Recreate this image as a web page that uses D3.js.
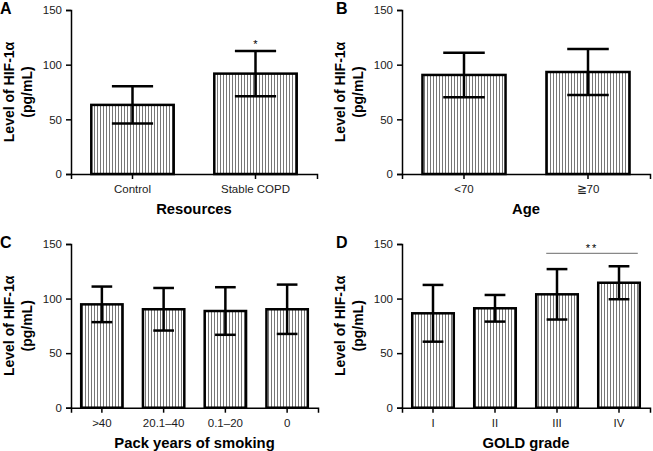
<!DOCTYPE html>
<html>
<head>
<meta charset="utf-8">
<script src="https://cdn.jsdelivr.net/npm/d3@7"></script>
<style>
  body { margin: 0; background: #fff; }
  svg { display: block; font-family: Arial, "Liberation Sans", sans-serif; }
  .axis path, .axis line { stroke: #000; stroke-width: 1.5; }
  .axis text { font-size: 11.5px; fill: #1a1a1a; }
</style>
</head>
<body>
<svg width="653" height="451"></svg>
<script>
// panel A - resources
let resourcesCats = ["Control", "Stable COPD"];
let resourcesMeans = [63.2, 91.8];
let resourcesSD = [17, 20.7];

// panel B - age
let ageCats = ["<70", "≧70"];
let ageMeans = [90.6, 93.3];
let ageSD = [20.4, 21];

// panel C - pack years
let smokingCats = [">40", "20.1–40", "0.1–20", "0"];
let smokingMeans = [94.7, 90.2, 88.6, 90.2];
let smokingSD = [16.3, 19.5, 21.8, 22.6];

// panel D - GOLD grade
let goldCats = ["I", "II", "III", "IV"];
let goldMeans = [86.5, 91.1, 103.9, 114.5];
let goldSD = [26, 12.2, 23.1, 15.1];

let yTicks = [0, 50, 100, 150];

let svg = d3.select("svg");

// hatch pattern for bars
svg.append("defs")
    .append("pattern")
    .attr("id", "hatch")
    .attr("patternUnits", "userSpaceOnUse")
    .attr("width", 3)
    .attr("height", 10)
    .append("line")
    .attr("x1", 1.5).attr("y1", 0)
    .attr("x2", 1.5).attr("y2", 10)
    .attr("stroke", "#777")
    .attr("stroke-width", 1);

function drawPanel(letter, x0, x1, y0, y1, cats, means, sds, title, mark){
    let g = svg.append("g");

    let scaleX = d3.scaleBand()
        .domain(cats)
        .range([x0, x1])
        .paddingInner(0.33)
        .paddingOuter(0.165);
    let scaleY = d3.scaleLinear()
        .domain([0, 150])
        .range([y1, y0]);

    let data = cats.map((c, i) => ({cat: c, mean: means[i], sd: sds[i]}));

    // bars
    g.selectAll(".bar")
        .data(data)
        .enter()
        .append("rect")
        .attr("x", d => scaleX(d.cat))
        .attr("width", scaleX.bandwidth())
        .attr("y", d => scaleY(d.mean))
        .attr("height", d => scaleY(0) - scaleY(d.mean))
        .attr("fill", "url(#hatch)")
        .attr("stroke", "#000")
        .attr("stroke-width", 2.5);

    // error bars
    let bw = scaleX.bandwidth();
    let eb = g.selectAll(".err")
        .data(data)
        .enter()
        .append("g")
        .attr("stroke", "#000")
        .attr("stroke-width", 2.5);
    eb.append("line")
        .attr("x1", d => scaleX(d.cat) + bw / 2)
        .attr("x2", d => scaleX(d.cat) + bw / 2)
        .attr("y1", d => scaleY(d.mean - d.sd))
        .attr("y2", d => scaleY(d.mean + d.sd));
    eb.append("line")
        .attr("x1", d => scaleX(d.cat) + bw / 4)
        .attr("x2", d => scaleX(d.cat) + bw * 3 / 4)
        .attr("y1", d => scaleY(d.mean + d.sd))
        .attr("y2", d => scaleY(d.mean + d.sd));
    eb.append("line")
        .attr("x1", d => scaleX(d.cat) + bw / 4)
        .attr("x2", d => scaleX(d.cat) + bw * 3 / 4)
        .attr("y1", d => scaleY(d.mean - d.sd))
        .attr("y2", d => scaleY(d.mean - d.sd));

    // axes
    g.append("g")
        .attr("class", "axis")
        .attr("transform", `translate(0, ${y1})`)
        .call(d3.axisBottom(scaleX).tickSizeOuter(0).tickSize(5).tickPadding(6));
    g.append("g")
        .attr("class", "axis")
        .attr("transform", `translate(${x0}, 0)`)
        .call(d3.axisLeft(scaleY).tickValues(yTicks).tickSizeOuter(0).tickSize(5).tickPadding(4));

    // y title
    let cy = (y0 + y1) / 2;
    g.append("text")
        .attr("transform", `translate(${x0 - 57}, ${cy}) rotate(-90)`)
        .attr("text-anchor", "middle")
        .attr("font-size", "14px")
        .attr("font-weight", "bold")
        .text("Level of HIF-1α");
    g.append("text")
        .attr("transform", `translate(${x0 - 39}, ${cy}) rotate(-90)`)
        .attr("text-anchor", "middle")
        .attr("font-size", "14px")
        .attr("font-weight", "bold")
        .text("(pg/mL)");

    // x title
    g.append("text")
        .attr("x", (x0 + x1) / 2)
        .attr("y", y1 + 40)
        .attr("text-anchor", "middle")
        .attr("font-size", "14.8px")
        .attr("font-weight", "bold")
        .text(title);

    // panel letter
    g.append("text")
        .attr("x", x0 < 100 ? 0 : 336)
        .attr("y", y0 + 4)
        .attr("font-size", "16px")
        .attr("font-weight", "bold")
        .text(letter);

    if (mark) mark(g, scaleX, scaleY);
}

drawPanel("A", 71, 317, 10, 174, resourcesCats, resourcesMeans, resourcesSD, "Resources",
    function(g, sx, sy){
        g.append("text")
            .attr("x", sx("Stable COPD") + sx.bandwidth() / 2)
            .attr("y", sy(resourcesMeans[1] + resourcesSD[1]) - 3)
            .attr("text-anchor", "middle")
            .attr("font-size", "11px")
            .text("*");
    });
drawPanel("B", 402, 650, 10, 174, ageCats, ageMeans, ageSD, "Age");
drawPanel("C", 71, 318, 244, 407.7, smokingCats, smokingMeans, smokingSD, "Pack years of smoking");
drawPanel("D", 402, 650, 244, 407.7, goldCats, goldMeans, goldSD, "GOLD grade",
    function(g, sx, sy){
        let lineY = sy(141.5);
        g.append("line")
            .attr("x1", sx("III") + 10)
            .attr("x2", sx("IV") + sx.bandwidth() - 2)
            .attr("y1", lineY)
            .attr("y2", lineY)
            .attr("stroke", "#888")
            .attr("stroke-width", 1.2);
        g.append("text")
            .attr("x", (sx("III") + sx("IV") + sx.bandwidth()) / 2 + 4)
            .attr("y", lineY - 1)
            .attr("text-anchor", "middle")
            .attr("font-size", "11px")
            .attr("letter-spacing", "2px")
            .text("**");
    });
</script>
</body>
</html>
